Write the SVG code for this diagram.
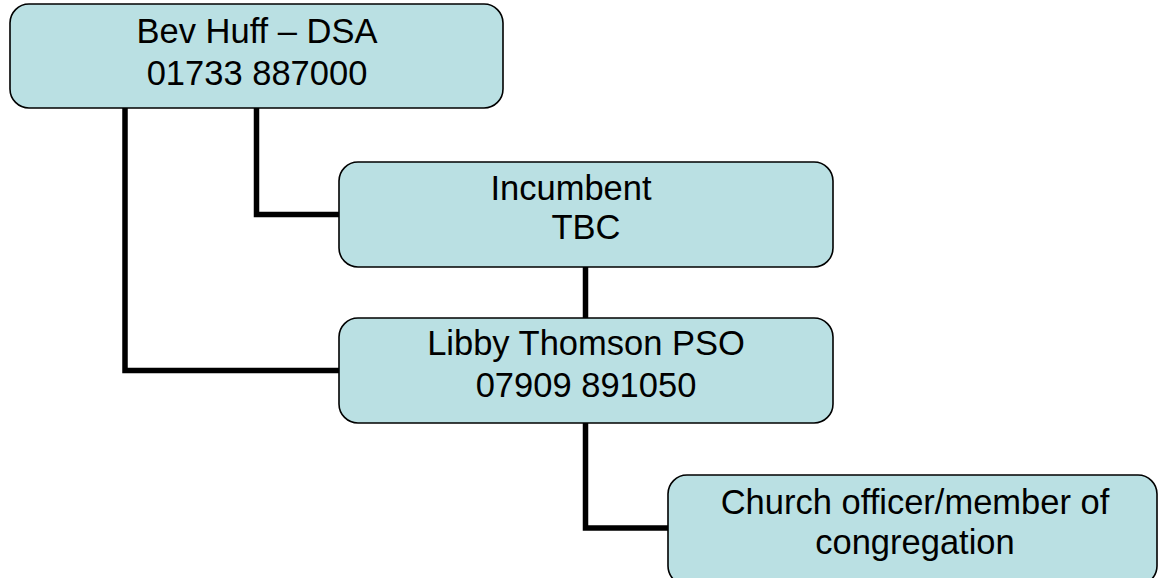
<svg xmlns="http://www.w3.org/2000/svg" width="1158" height="578" viewBox="0 0 1158 578">
<style>
.box{fill:#BAE0E3;stroke:#000;stroke-width:1.6}
.lbl{font-family:"Liberation Sans",Arial,sans-serif;font-size:34.5px;fill:#000;text-anchor:middle}
.conn{fill:none;stroke:#000;stroke-width:5.5;stroke-linejoin:miter;stroke-linecap:butt}
</style>
<rect width="1158" height="578" fill="#fff"/>
<g id="connectors">
<polyline class="conn" points="125,106 125,370.5 339,370.5"/>
<polyline class="conn" points="256.5,108 256.5,214.5 339,214.5"/>
<line class="conn" x1="585.5" y1="267" x2="585.5" y2="318"/>
<polyline class="conn" points="585.5,423 585.5,528 668,528"/>
</g>
<g id="node-dsa">
<rect class="box" x="10" y="4" width="493" height="104" rx="19"/>
<text class="lbl" x="257" y="43">Bev Huff – DSA</text>
<text class="lbl" x="257" y="85">01733 887000</text>
</g>
<g id="node-incumbent">
<rect class="box" x="339" y="162" width="494" height="105" rx="19"/>
<text class="lbl" x="571" y="200">Incumbent</text>
<text class="lbl" x="586" y="239">TBC</text>
</g>
<g id="node-pso">
<rect class="box" x="339" y="318" width="494" height="105" rx="19"/>
<text class="lbl" x="586" y="355">Libby Thomson PSO</text>
<text class="lbl" x="586" y="397">07909 891050</text>
</g>
<g id="node-church">
<rect class="box" x="668" y="475" width="489" height="110" rx="19"/>
<text class="lbl" x="915" y="514">Church officer/member of</text>
<text class="lbl" x="915" y="554">congregation</text>
</g>
</svg>
